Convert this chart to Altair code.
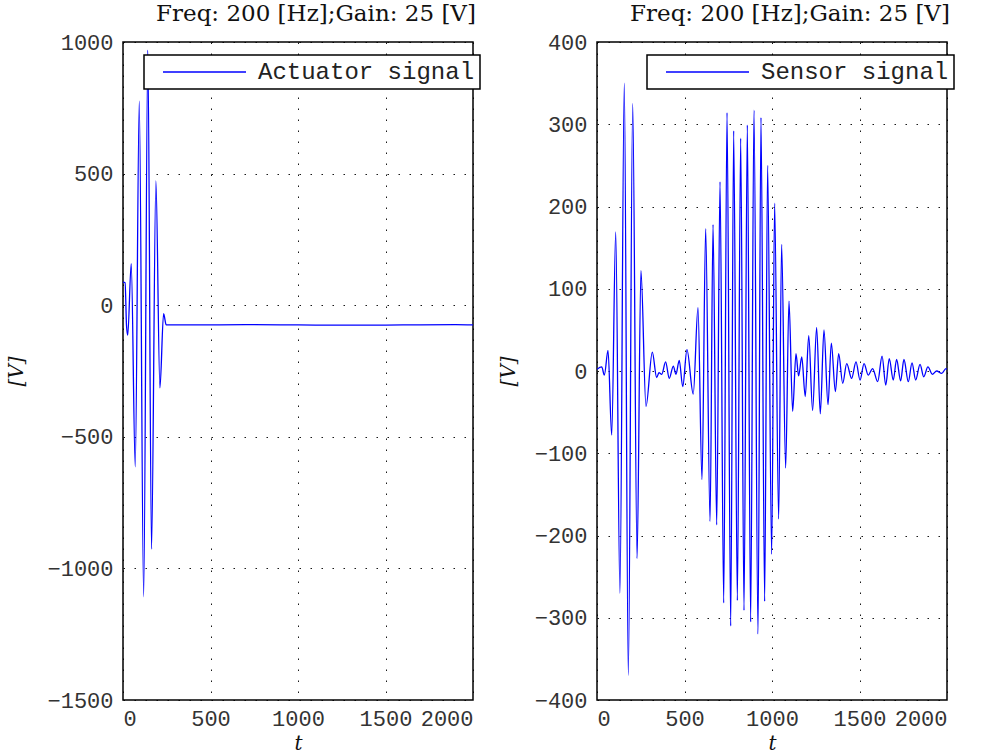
import altair as alt
import pandas as pd

TITLE = "Freq: 200 [Hz];Gain: 25 [V]"

# Actuator signal: burst followed by a constant offset
act_t = [0, 12, 20, 27, 47, 70, 93, 118, 142, 163, 188, 211, 232, 247,
         400, 700, 1000, 1300, 1600, 1900, 2000]
act_v = [88, 85, -76, -114, 158, -614, 775, -1108, 969, -927, 472, -314, -32, -75,
         -75, -74, -75, -76, -75, -74, -75]

# Sensor signal: direct burst, reflected packet and decaying tail
sen_t = [0, 27, 42, 63, 84, 107, 131, 156, 179, 204, 229, 251, 280, 316,
         341, 354, 370, 392, 413, 436, 451, 470, 490, 514, 550, 577, 600, 621,
         646, 663, 684, 703, 724, 743, 764, 781, 802, 821, 840, 859, 878, 897,
         920, 937, 958, 975, 998, 1015, 1038, 1055, 1078, 1097, 1118, 1137, 1152,
         1170, 1190, 1210, 1232, 1255, 1276, 1297, 1320, 1339, 1362, 1381, 1404,
         1427, 1455, 1480, 1503, 1526, 1550, 1575, 1604, 1629, 1650, 1670, 1693,
         1712, 1735, 1754, 1779, 1800, 1821, 1846, 1867, 1891, 1916, 1941, 1970,
         1994, 2000]
sen_v = [2, 5, -5, 25, -78, 169, -270, 350, -370, 325, -228, 122, -43, 23,
         -8, -2, -4, 11, -9, 6, -4, 13, -19, 26, -28, 77, -132, 173,
         -183, 178, -187, 230, -282, 314, -310, 292, -279, 283, -291, 299, -305, 317,
         -320, 308, -280, 250, -223, 204, -180, 154, -118, 85, -49, 21, -6,
         17, -31, 43, -48, 53, -52, 50, -41, 34, -25, 21, -15,
         9, -9, 11, -11, 9, -5, 3, -13, 18, -17, 15, -11,
         14, -12, 14, -13, 10, -11, 8, -7, 5, -4, 0, -3,
         3, 2]

MONO = "Liberation Mono"
SERIF = "DejaVu Serif"


def panel(t, v, name, lo, hi, step, title_pad, legend_x):
    df = pd.DataFrame({"t": t, "v": v, "series": name})
    return (
        alt.Chart(
            df,
            title=alt.TitleParams(
                TITLE, font=SERIF, fontSize=23, fontWeight="normal",
                color="#111", anchor="middle", dx=18, offset=5,
            ),
        )
        .mark_line(interpolate="monotone", strokeWidth=1.3, clip=True)
        .encode(
            x=alt.X(
                "t:Q",
                scale=alt.Scale(domain=[0, 2000], nice=False, zero=False),
                axis=alt.Axis(
                    values=[0, 500, 1000, 1500, 2000], format="d", title="t",
                    titleFont=SERIF, titleFontStyle="italic", titleFontSize=20,
                    titleFontWeight="normal", titlePadding=4,
                    labelPadding=8,
                ),
            ),
            y=alt.Y(
                "v:Q",
                scale=alt.Scale(domain=[lo, hi], nice=False, zero=False),
                axis=alt.Axis(
                    values=list(range(lo, hi + 1, step)), format="d", title="[V]",
                    titleFont=SERIF, titleFontStyle="italic", titleFontSize=20,
                    titleFontWeight="normal", titlePadding=title_pad,
                    labelPadding=10,
                ),
            ),
            color=alt.Color(
                "series:N",
                scale=alt.Scale(domain=[name], range=["#0000ff"]),
                legend=alt.Legend(
                    title=None, orient="none", legendX=legend_x, legendY=13,
                ),
            ),
        )
        .properties(width=350, height=658)
    )


left = panel(act_t, act_v, "Actuator signal", -1500, 1000, 500, 20, 21)
right = panel(sen_t, sen_v, "Sensor signal", -400, 400, 100, 16, 50)

chart = (
    alt.hconcat(left, right, spacing=15)
    .resolve_scale(color="independent", y="independent")
    .resolve_legend(color="independent")
    .properties(padding={"left": 6, "top": 2, "right": 10, "bottom": 0},
                background="white")
    .configure_view(stroke="black", strokeWidth=1.5)
    .configure_axis(
        domain=False, ticks=False,
        grid=True, gridColor="#000", gridDash=[1.5, 9.5], gridWidth=1,
        gridOpacity=0.9,
        labelFont=MONO, labelFontSize=22, labelColor="#333",
        titleColor="#111",
    )
    .configure_legend(
        # a long horizontal stroke drawn as a custom path, shifted right of its slot
        symbolType="M-4.15,0H4.15", symbolSize=400, symbolStrokeWidth=1.3,
        symbolOffset=43.5,
        labelFont=MONO, labelFontSize=24, labelColor="#222", labelOffset=41.5,
        strokeColor="black", strokeWidth=1.5, fillColor="white", padding=5,
        labelLimit=400,
    )
)

chart.save("out.html", embed_options={"renderer": "svg", "actions": False})
